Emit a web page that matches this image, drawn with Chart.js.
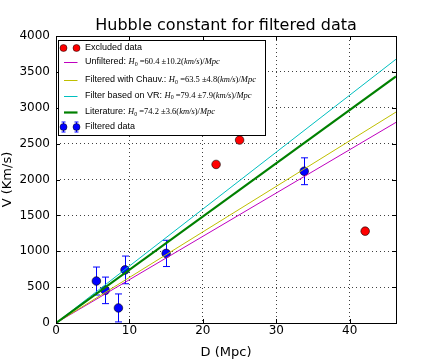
<!DOCTYPE html>
<html><head><meta charset="utf-8">
<script src="https://cdn.jsdelivr.net/npm/chart.js@4"></script>
<style>html,body{margin:0;padding:0;background:#fff}canvas{display:block}</style>
</head><body>
<canvas id="c" width="440" height="360"></canvas>
<script>
// ---- data ----
const filteredD   = [5.5, 6.7, 8.5, 9.4, 15.0, 33.8];
const filteredV   = [585, 455, 210, 740, 970, 2115];
const filteredErr = [195, 185, 195, 193, 183, 187];
const excludedD   = [21.8, 25.0, 42.1];
const excludedV   = [2210, 2550, 1280];
const fitLabels   = ['Unfiltered: ', 'Filtered with Chauv.: ', 'Filter based on VR: ', 'Literature: '];
const fitH0       = [60.4, 63.5, 79.4, 74.2];
const fitH0Err    = [10.2, 4.8, 7.9, 3.6];
const fitRange    = [0, 46.3];
const xTicks      = [0, 10, 20, 30, 40];
const yTicks      = [0, 500, 1000, 1500, 2000, 2500, 3000, 3500, 4000];
const chartTitle  = 'Hubble constant for filtered data';

// ---- styles ----
const fitColors = ['#bf00bf', '#bfbf00', '#00bfbf', '#008000'];
const fitWidths = [1, 1, 1, 2.2];
const fitOrder  = [5, 4, 3, 2];
const SANS = '"DejaVu Sans", sans-serif';
const LSANS = '"Liberation Sans", Arial, sans-serif';
const SERIF = '"Liberation Serif", serif';

const datasets = [
  { label: 'Excluded data', data: excludedD.map((d, i) => ({x: d, y: excludedV[i]})),
    backgroundColor: '#ff0000', borderColor: '#000', borderWidth: 0.6, pointRadius: 4.3, order: 0 },
  ...fitLabels.map((lab, i) => ({
    label: lab, data: fitRange.map(d => ({x: d, y: fitH0[i] * d})),
    showLine: true, borderColor: fitColors[i], borderWidth: fitWidths[i], pointRadius: 0, order: fitOrder[i] })),
  { label: 'Filtered data', data: filteredD.map((d, i) => ({x: d, y: filteredV[i]})),
    backgroundColor: '#0000ff', borderColor: '#000', borderWidth: 0.6, pointRadius: 4.3, order: 6 }
];

const errorBars = {
  id: 'errorBars',
  beforeDatasetsDraw(chart) {
    const {ctx, chartArea: a, scales: {x, y}} = chart;
    ctx.save();
    ctx.beginPath(); ctx.rect(a.left, a.top, a.right - a.left, a.bottom - a.top); ctx.clip();
    ctx.strokeStyle = '#0000ff'; ctx.lineWidth = 1;
    filteredD.forEach((d, i) => {
      const px = Math.round(x.getPixelForValue(d)) + 0.5;
      const y1 = y.getPixelForValue(filteredV[i] - filteredErr[i]);
      const y2 = y.getPixelForValue(filteredV[i] + filteredErr[i]);
      ctx.beginPath();
      ctx.moveTo(px, y1); ctx.lineTo(px, y2);
      ctx.moveTo(px - 3.5, y1); ctx.lineTo(px + 3.5, y1);
      ctx.moveTo(px - 3.5, y2); ctx.lineTo(px + 3.5, y2);
      ctx.stroke();
    });
    ctx.restore();
  }
};

const frame = {
  id: 'frame',
  afterDatasetsDraw(chart) {
    const {ctx, chartArea: a, scales: {x, y}} = chart;
    ctx.save();
    ctx.strokeStyle = '#000'; ctx.lineWidth = 1;
    ctx.beginPath();
    x.ticks.forEach(t => {
      const p = Math.round(x.getPixelForValue(t.value)) + 0.5;
      ctx.moveTo(p, a.bottom); ctx.lineTo(p, a.bottom - 4);
      ctx.moveTo(p, a.top); ctx.lineTo(p, a.top + 4);
    });
    y.ticks.forEach(t => {
      const p = Math.round(y.getPixelForValue(t.value)) + 0.5;
      ctx.moveTo(a.left, p); ctx.lineTo(a.left + 4, p);
      ctx.moveTo(a.right, p); ctx.lineTo(a.right - 4, p);
    });
    ctx.stroke();
    ctx.strokeRect(Math.round(a.left) + 0.5, Math.round(a.top) + 0.5,
                   Math.round(a.right - a.left), Math.round(a.bottom - a.top));
    // title centred over the plot area
    ctx.fillStyle = '#000'; ctx.font = '16px ' + SANS;
    ctx.textAlign = 'center'; ctx.textBaseline = 'alphabetic';
    ctx.fillText(chartTitle, (a.left + a.right) / 2, 30);
    ctx.restore();
  }
};

function drawRuns(ctx, x, y, runs) {
  for (const r of runs) {
    ctx.font = r.f;
    ctx.fillText(r.t, x, y + (r.dy || 0));
    x += ctx.measureText(r.t).width;
  }
  return x;
}

const customLegend = {
  id: 'customLegend',
  afterDraw(chart) {
    const ctx = chart.ctx;
    const L = 58.5, T = 40.5, R = 265.5, B = 135.5;
    ctx.save();
    ctx.fillStyle = '#fff'; ctx.fillRect(L, T, R - L, B - T);
    ctx.strokeStyle = '#000'; ctx.lineWidth = 1; ctx.strokeRect(L, T, R - L, B - T);
    const rows = [48, 62, 80, 95.5, 112, 127];
    const mx1 = 63.5, mx2 = 76.5, lx1 = 64, lx2 = 77.5, tx = 85;
    ctx.textBaseline = 'middle'; ctx.textAlign = 'left';
    [mx1, mx2].forEach(mx => {
      ctx.beginPath(); ctx.arc(mx, rows[0], 3.5, 0, Math.PI * 2);
      ctx.fillStyle = '#ff0000'; ctx.fill(); ctx.strokeStyle = '#000'; ctx.lineWidth = 0.5; ctx.stroke();
    });
    ctx.fillStyle = '#000';
    drawRuns(ctx, tx, rows[0], [{t: 'Excluded data', f: '9px ' + LSANS}]);
    fitLabels.forEach((lab, i) => {
      const ry = rows[i + 1];
      ctx.strokeStyle = fitColors[i]; ctx.lineWidth = fitWidths[i];
      ctx.beginPath(); ctx.moveTo(lx1, Math.round(ry) + 0.5); ctx.lineTo(lx2, Math.round(ry) + 0.5); ctx.stroke();
      ctx.fillStyle = '#000';
      const reg = '8.5px ' + SERIF, it = 'italic 8.5px ' + SERIF;
      drawRuns(ctx, tx, ry, [
        {t: lab, f: '9px ' + LSANS},
        {t: 'H', f: it},
        {t: '0', f: '6px ' + SERIF, dy: 2},
        {t: ' =' + fitH0[i].toFixed(1) + ' \u00b1' + fitH0Err[i].toFixed(1) + '(', f: reg},
        {t: 'km/s', f: it},
        {t: ')/', f: reg},
        {t: 'Mpc', f: it}
      ]);
    });
    const fy = rows[5];
    [mx1, mx2].forEach(mx => {
      ctx.strokeStyle = '#0000ff'; ctx.lineWidth = 1;
      ctx.beginPath();
      ctx.moveTo(mx, fy - 5); ctx.lineTo(mx, fy + 5);
      ctx.moveTo(mx - 2, fy - 5); ctx.lineTo(mx + 2, fy - 5);
      ctx.moveTo(mx - 2, fy + 5); ctx.lineTo(mx + 2, fy + 5);
      ctx.stroke();
      ctx.beginPath(); ctx.arc(mx, fy, 3.5, 0, Math.PI * 2);
      ctx.fillStyle = '#0000ff'; ctx.fill(); ctx.strokeStyle = '#000'; ctx.lineWidth = 0.5; ctx.stroke();
    });
    ctx.fillStyle = '#000';
    drawRuns(ctx, tx, fy, [{t: 'Filtered data', f: '9px ' + LSANS}]);
    ctx.restore();
  }
};

const gridOpts = { color: 'rgba(0,0,0,0.75)', lineWidth: 1, drawTicks: false };

new Chart(document.getElementById('c'), {
  type: 'scatter',
  data: { datasets },
  plugins: [errorBars, frame, customLegend],
  options: {
    responsive: false, animation: false, devicePixelRatio: 1,
    layout: { padding: { left: 0, right: 44, top: 36, bottom: 0 } },
    plugins: { legend: { display: false }, tooltip: { enabled: false }, title: { display: false } },
    scales: {
      x: {
        type: 'linear', min: 0, max: fitRange[1],
        afterBuildTicks: s => { s.ticks = xTicks.map(v => ({value: v})); },
        afterFit: s => { s.height = 37; },
        ticks: { color: '#000', font: { family: SANS, size: 12 }, padding: 1, maxRotation: 0, callback: v => String(v) },
        grid: gridOpts, border: { display: false, dash: [1, 3] },
        title: { display: true, text: 'D (Mpc)', color: '#000', font: { family: SANS, size: 13 }, padding: 0 }
      },
      y: {
        type: 'linear', min: 0, max: 4000,
        afterBuildTicks: s => { s.ticks = yTicks.map(v => ({value: v})); },
        afterFit: s => { s.width = 56; },
        ticks: { color: '#000', font: { family: SANS, size: 12 }, padding: 6, callback: v => String(v) },
        grid: gridOpts, border: { display: false, dash: [1, 3] },
        title: { display: true, text: 'V (Km/s)', color: '#000', font: { family: SANS, size: 13 }, padding: 0 }
      }
    }
  }
});
</script>
</body></html>
